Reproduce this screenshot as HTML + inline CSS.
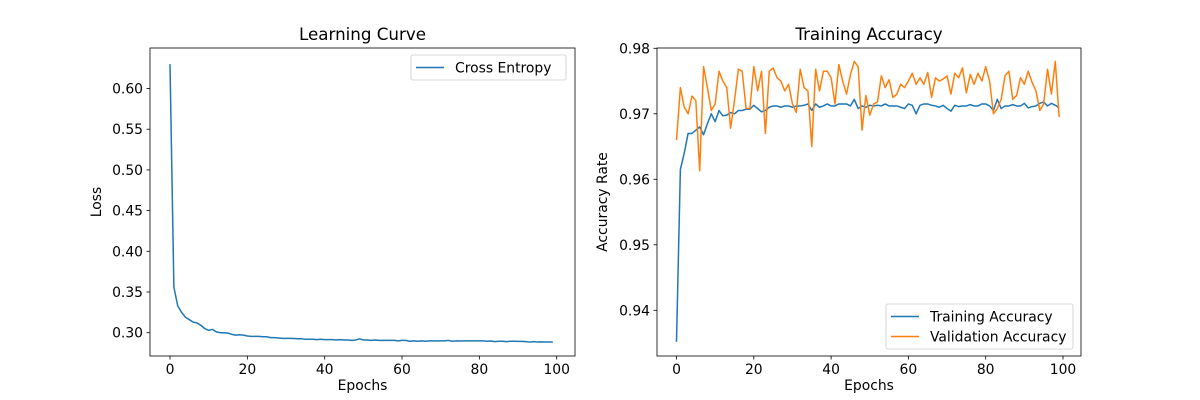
<!DOCTYPE html>
<html><head><meta charset="utf-8"><style>
body{margin:0;background:#fff}
svg{display:block;font-family:"DejaVu Sans","Liberation Sans",sans-serif}
</style></head><body>
<svg id="fig" width="1200" height="400" xmlns="http://www.w3.org/2000/svg"></svg>
<script>
const epochs = Array.from({length:100},(_,i)=>i);
const loss = [0.630,0.356,0.333,0.325,0.319,0.316,0.313,0.312,0.309,0.305,0.303,0.304,0.301,0.300,0.300,0.2995,0.298,0.297,0.2975,0.297,0.296,0.2955,0.2955,0.2955,0.295,0.295,0.294,0.294,0.2935,0.293,0.293,0.293,0.2928,0.2925,0.2925,0.292,0.292,0.292,0.2915,0.292,0.2915,0.2915,0.2915,0.291,0.2915,0.291,0.291,0.2905,0.291,0.2925,0.291,0.291,0.2905,0.291,0.2905,0.2905,0.2905,0.2905,0.2905,0.290,0.2905,0.2905,0.2895,0.290,0.2895,0.290,0.2895,0.290,0.290,0.2898,0.290,0.290,0.2905,0.2895,0.290,0.2898,0.290,0.290,0.290,0.290,0.290,0.290,0.2895,0.2898,0.289,0.2895,0.2895,0.289,0.2895,0.2895,0.2893,0.2893,0.289,0.2885,0.289,0.2885,0.2888,0.2885,0.2885,0.2886];
const trainAcc = [0.9352,0.9615,0.964,0.967,0.967,0.9675,0.968,0.9668,0.9685,0.970,0.9688,0.9705,0.9697,0.9698,0.9702,0.970,0.9705,0.9705,0.9707,0.9707,0.9713,0.9708,0.9703,0.9705,0.971,0.9712,0.9712,0.971,0.9712,0.9712,0.971,0.9712,0.9712,0.9713,0.9715,0.9705,0.9715,0.971,0.9712,0.9715,0.9712,0.9712,0.9715,0.9715,0.9715,0.9712,0.9722,0.9708,0.9712,0.971,0.9713,0.9712,0.9713,0.9712,0.9715,0.9712,0.9712,0.9712,0.971,0.9708,0.9715,0.9713,0.970,0.9713,0.9715,0.9715,0.9713,0.9712,0.971,0.9713,0.9708,0.9704,0.9713,0.9711,0.9712,0.9712,0.9714,0.9712,0.9712,0.9715,0.9715,0.9712,0.9705,0.9722,0.9708,0.9712,0.9712,0.9714,0.9712,0.9712,0.9716,0.9709,0.9711,0.9712,0.9716,0.9718,0.9712,0.9716,0.9713,0.9709];
const valAcc = [0.966,0.974,0.971,0.970,0.9727,0.972,0.9613,0.9772,0.974,0.9705,0.9715,0.9765,0.975,0.974,0.9678,0.972,0.9768,0.9765,0.9708,0.9708,0.9772,0.9735,0.9765,0.967,0.9765,0.977,0.9755,0.975,0.9735,0.9745,0.9715,0.9702,0.9768,0.974,0.9735,0.965,0.9768,0.9735,0.9765,0.9765,0.9755,0.9715,0.9775,0.975,0.973,0.976,0.978,0.9772,0.9675,0.9728,0.9698,0.9715,0.9718,0.9758,0.974,0.9752,0.9725,0.973,0.9745,0.974,0.975,0.9762,0.9745,0.9755,0.9745,0.9763,0.9725,0.9755,0.975,0.9753,0.9758,0.973,0.9762,0.9755,0.977,0.9732,0.976,0.9745,0.9762,0.975,0.9772,0.975,0.970,0.9708,0.9722,0.9758,0.9765,0.9722,0.9728,0.9755,0.9745,0.9765,0.9748,0.9735,0.9705,0.9715,0.9768,0.973,0.978,0.9695];
const xTicks = [0,20,40,60,80,100];
const lossTicks = [0.30,0.35,0.40,0.45,0.50,0.55,0.60];
const accTicks = [0.94,0.95,0.96,0.97,0.98];

const NS="http://www.w3.org/2000/svg", svg=document.getElementById('fig');
function mk(tag,attrs,parent,txt){const e=document.createElementNS(NS,tag);for(const k in attrs)e.setAttribute(k,attrs[k]);if(txt!==undefined)e.textContent=txt;(parent||svg).appendChild(e);return e;}
const FS=13.9, TFS=16.7;
function panel(o){
  const g=mk('g',{});
  
  
  const sx=v=>o.x0px+(v-0)*(o.x100px-o.x0px)/100;
  const sy=v=>o.yApx+(v-o.yA)*(o.yBpx-o.yApx)/(o.yB-o.yA);
  o.series.forEach(s=>{
    const p=mk('polyline',{points:s.data.map((v,i)=>sx(epochs[i]).toFixed(2)+','+sy(v).toFixed(2)).join(' '),fill:'none',stroke:s.color,'stroke-width':1.5,'stroke-linejoin':'round'},g);
    
    
  });
  const fr=mk('rect',{x:o.L,y:o.T,width:o.R-o.L,height:o.B-o.T,fill:'none',stroke:'#000','stroke-width':0.8},g);
  
  
  xTicks.forEach(t=>{
    const x=sx(t);
    mk('line',{x1:x,x2:x,y1:o.B,y2:o.B+3.5,stroke:'#000','stroke-width':0.8},g);
    const tl=mk('text',{x:x,y:o.B+18,'text-anchor':'middle','font-size':FS},g,String(t));
    
    
  });
  o.yTicks.forEach(t=>{
    const y=sy(t);
    mk('line',{x1:o.L-3.5,x2:o.L,y1:y,y2:y,stroke:'#000','stroke-width':0.8},g);
    const tl=mk('text',{x:o.L-7,y:y+5,'text-anchor':'end','font-size':FS},g,t.toFixed(2));
    
    
  });
  const ti=mk('text',{x:(o.L+o.R)/2,y:o.T-8,'text-anchor':'middle','font-size':TFS},g,o.title);
  
  
  const xl=mk('text',{x:(o.L+o.R)/2,y:o.B+34,'text-anchor':'middle','font-size':FS},g,'Epochs');
  
  
  const yl=mk('text',{x:0,y:0,'text-anchor':'middle','font-size':FS,transform:`translate(${o.ylx},${(o.T+o.B)/2}) rotate(-90)`},g,o.ylabel);
  
  
  const lg=mk('g',{},g);
  
  
  mk('rect',{x:o.lg.x,y:o.lg.y,width:o.lg.w,height:o.lg.h,rx:2,fill:'#fff','fill-opacity':0.8,stroke:'#ccc','stroke-width':0.8},lg);
  o.series.forEach((s,i)=>{
    const yy=o.lg.y+12.5+i*20;
    mk('line',{x1:o.lg.x+5,x2:o.lg.x+33,y1:yy,y2:yy,stroke:s.color,'stroke-width':1.5},lg);
    const lt=mk('text',{x:o.lg.x+44,y:yy+5,'font-size':FS},lg,s.label);
    
    
  });
}
panel({name:'learning-curve-chart',L:150,R:575,T:48,B:356,x0px:170,x100px:556.7,yA:0.30,yApx:332.7,yB:0.60,yBpx:88.5,
  yTicks:lossTicks,title:'Learning Curve',ylabel:'Loss',ylx:101,
  series:[{key:'cross-entropy',data:loss,color:'#1f77b4',label:'Cross Entropy'}],
  lg:{x:411,y:55,w:155,h:25}});
panel({name:'training-accuracy-chart',L:657,R:1081,T:48,B:356,x0px:676.5,x100px:1063,yA:0.94,yApx:310.3,yB:0.98,yBpx:48.3,
  yTicks:accTicks,title:'Training Accuracy',ylabel:'Accuracy Rate',ylx:607,
  series:[{key:'training-accuracy',data:trainAcc,color:'#1f77b4',label:'Training Accuracy'},
          {key:'validation-accuracy',data:valAcc,color:'#ff7f0e',label:'Validation Accuracy'}],
  lg:{x:886,y:304,w:187,h:45}});
</script>
</body></html>
